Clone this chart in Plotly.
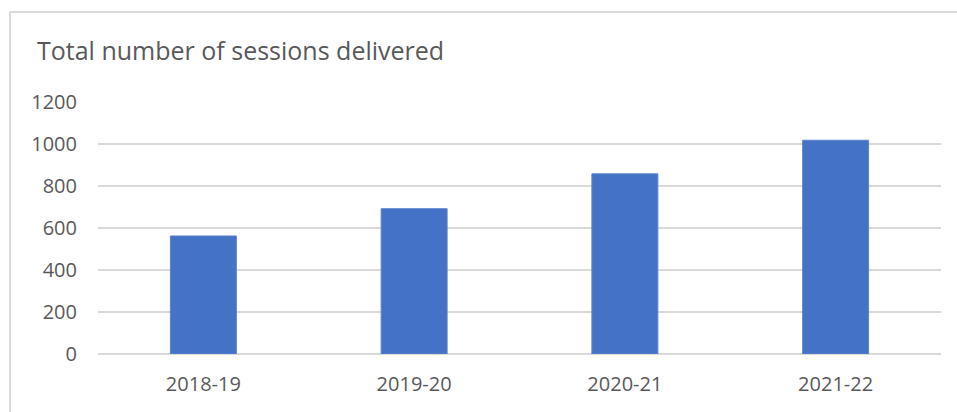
import plotly.graph_objects as go

categories = ["2018-19", "2019-20", "2020-21", "2021-22"]
sessions = [562, 692, 858, 1018]
y_ticks = [0, 200, 400, 600, 800, 1000, 1200]

W, H = 957, 412
L, R, T, B = 98, 16, 102, 58

fig = go.Figure(go.Bar(
    x=categories, y=sessions,
    marker=dict(color="#4472C4", line=dict(color="#5B85D0", width=1)),
    hoverinfo="x+y",
))

pw = W - L - R
ph = H - T - B
def px_x(p):
    return (p - L) / pw
def px_y(p):
    return (H - B - p) / ph

border = dict(color="#D9D9D9", width=2)
fig.add_shape(type="line", xref="paper", yref="paper",
              x0=px_x(10), x1=px_x(960), y0=px_y(12), y1=px_y(12), line=border)
fig.add_shape(type="line", xref="paper", yref="paper",
              x0=px_x(10), x1=px_x(10), y0=px_y(12), y1=px_y(415), line=border)

fig.update_layout(
    width=W, height=H,
    margin=dict(l=L, r=R, t=T, b=B),
    paper_bgcolor="white", plot_bgcolor="white",
    bargap=0.687,
    font=dict(family="Open Sans", color="#595959", size=20),
    title=dict(text="Total number of sessions delivered",
               x=37 / W, xanchor="left", xref="container",
               y=1 - 51 / H, yanchor="middle", yref="container",
               font=dict(size=25, color="#595959", family="Open Sans")),
    showlegend=False,
    xaxis=dict(showgrid=False, showline=False, ticks="",
               tickfont=dict(size=20, color="#595959"), ticklabelstandoff=16),
    yaxis=dict(range=[0, 1200], tickvals=y_ticks, ticktext=[str(v) for v in y_ticks],
               showgrid=True, gridcolor="#D9D9D9", gridwidth=1.5,
               zeroline=True, zerolinecolor="#D9D9D9", zerolinewidth=1.5,
               showline=False, ticks="", ticklabelstandoff=20,
               tickfont=dict(size=20, color="#595959")),
)

fig.write_html("out.html",
               config={"displayModeBar": False},
               post_script="document.body.style.margin='0';document.body.style.overflow='hidden';")
